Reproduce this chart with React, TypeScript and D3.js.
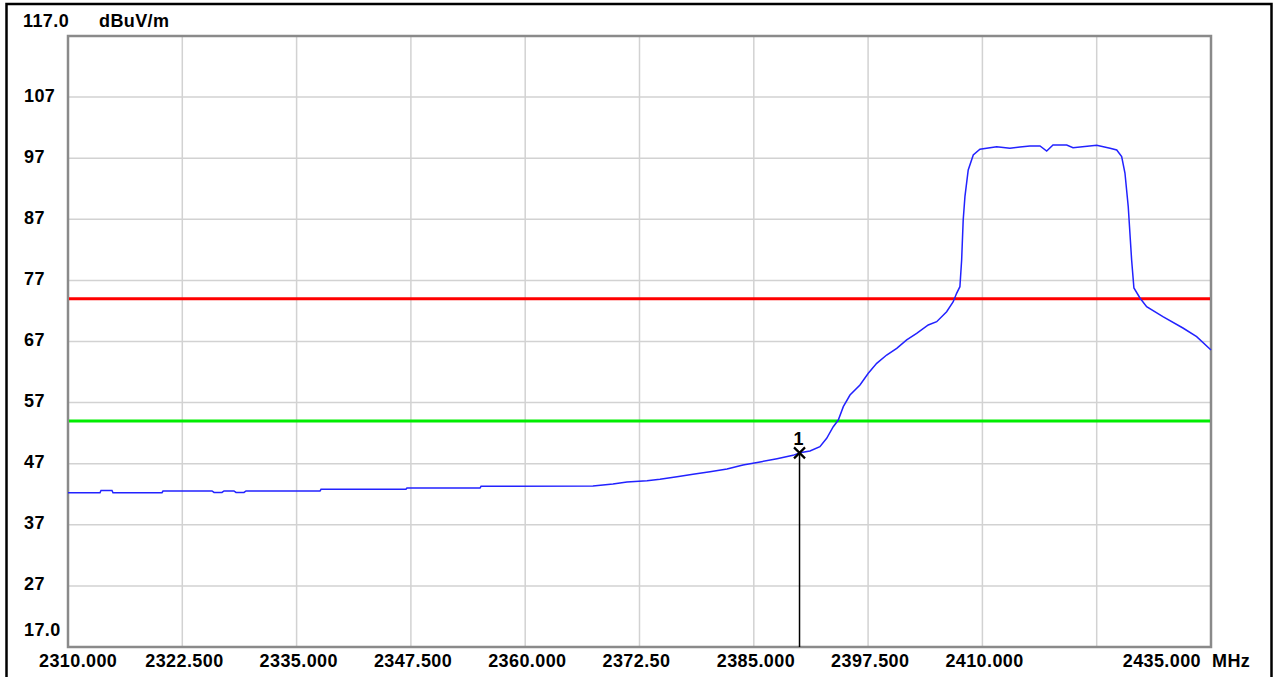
import React, { useEffect, useRef } from 'react';
import * as d3 from 'd3';

// y axis (dBuV/m)
const yMin = 17;
const yMax = 117;
const yTicks = [27, 37, 47, 57, 67, 77, 87, 97, 107];

// x axis (MHz)
const xMin = 2310;
const xMax = 2435;
const xTicks = [2310, 2322.5, 2335, 2347.5, 2360, 2372.5, 2385, 2397.5, 2410, 2422.5, 2435];
const xTickLabels = ['2310.000', '2322.500', '2335.000', '2347.500', '2360.000', '2372.50', '2385.000', '2397.500', '2410.000', '', '2435.000'];

// limit lines
const limitPeak = 74;
const limitAvg = 54;

// marker 1
const markerFreq = 2390;

// trace: [MHz, dBuV/m]
const traceFreq = [
  2310.0, 2313.5, 2313.61, 2314.81, 2314.92, 2320.28, 2320.39, 2325.75, 2325.97, 2326.84,
  2327.06, 2328.15, 2328.37, 2329.25, 2329.47, 2337.56, 2337.67, 2346.96, 2347.07, 2355.06,
  2355.17, 2367.41, 2369.6, 2371.13, 2373.32, 2374.74, 2376.6, 2378.35, 2380.21, 2382.07,
  2383.82, 2385.68, 2387.54, 2389.29, 2390.05, 2391.14, 2392.23, 2392.97, 2393.69, 2394.24,
  2394.79, 2395.52, 2396.61, 2397.52, 2398.44, 2399.53, 2400.63, 2401.72, 2402.81, 2404.08,
  2405.0, 2406.09, 2406.81, 2407.18, 2407.54, 2407.73, 2407.9, 2408.09, 2408.45, 2409.0,
  2409.73, 2411.56, 2413.01, 2414.11, 2415.2, 2416.3, 2417.03, 2417.72, 2419.22, 2419.91,
  2422.5, 2423.96, 2424.69, 2425.23, 2425.59, 2425.95, 2426.32, 2426.57, 2427.23, 2427.96,
  2429.74, 2431.93, 2433.43, 2435.0,
];
const traceLevel = [
  42.25, 42.25, 42.61, 42.61, 42.25, 42.25, 42.53, 42.53, 42.29, 42.29,
  42.53, 42.53, 42.29, 42.29, 42.53, 42.53, 42.81, 42.81, 43.02, 43.02,
  43.3, 43.35, 43.68, 44.0, 44.22, 44.45, 44.87, 45.26, 45.69, 46.13,
  46.79, 47.28, 47.82, 48.37, 48.8, 49.08, 49.78, 51.16, 53.06, 54.15,
  56.33, 58.24, 59.88, 61.8, 63.43, 64.79, 65.89, 67.25, 68.34, 69.7,
  70.24, 71.88, 73.51, 74.89, 75.97, 80.34, 86.89, 90.7, 95.07, 97.52,
  98.46, 98.88, 98.62, 98.83, 99.0, 99.0, 98.18, 99.16, 99.16, 98.72,
  99.11, 98.62, 98.34, 97.25, 94.58, 89.06, 80.34, 75.76, 74.12, 72.7,
  71.06, 69.21, 67.79, 65.61,
];

const W = 1275;
const H = 677;
const plot = { left: 68, right: 1211, top: 36, bottom: 647 };
const font = '"Liberation Sans", Arial, sans-serif';

const App = () => {
  const ref = useRef<SVGSVGElement>(null);

  useEffect(() => {
    const svg = d3.select(ref.current);
    svg.selectAll('*').remove();

    const x = d3.scaleLinear().domain([xMin, xMax]).range([plot.left, plot.right]);
    const y = d3.scaleLinear().domain([yMin, yMax]).range([plot.bottom, plot.top]);

    svg.append('rect').attr('width', W).attr('height', H).attr('fill', '#fff');

    // outer black frame (bottom edge runs off the picture)
    svg.append('rect')
      .attr('x', 6.5).attr('y', 4).attr('width', 1265).attr('height', H + 10)
      .attr('fill', 'none').attr('stroke', '#000').attr('stroke-width', 2.5);

    // grid
    const grid = svg.append('g').attr('stroke', '#d2d2d2').attr('stroke-width', 1.5);
    grid.selectAll('.vx').data(xTicks.slice(1, -1)).enter().append('line')
      .attr('x1', d => x(d)).attr('x2', d => x(d))
      .attr('y1', plot.top).attr('y2', plot.bottom);
    grid.selectAll('.hy').data(yTicks).enter().append('line')
      .attr('x1', plot.left).attr('x2', plot.right)
      .attr('y1', d => y(d)).attr('y2', d => y(d));

    // plot frame
    svg.append('rect')
      .attr('x', plot.left).attr('y', plot.top)
      .attr('width', plot.right - plot.left).attr('height', plot.bottom - plot.top)
      .attr('fill', 'none').attr('stroke', '#8a8a8a').attr('stroke-width', 2.5);

    // limit lines
    svg.append('line')
      .attr('x1', plot.left + 1).attr('x2', plot.right - 1)
      .attr('y1', y(limitPeak)).attr('y2', y(limitPeak))
      .attr('stroke', '#ff0000').attr('stroke-width', 3);
    svg.append('line')
      .attr('x1', plot.left + 1).attr('x2', plot.right - 1)
      .attr('y1', y(limitAvg)).attr('y2', y(limitAvg))
      .attr('stroke', '#00ee00').attr('stroke-width', 3);

    // trace
    const pts: [number, number][] = traceFreq.map((f, i) => [f, traceLevel[i]]);
    const line = d3.line<[number, number]>().x(d => x(d[0])).y(d => y(d[1]));
    svg.append('path')
      .attr('d', line(pts))
      .attr('fill', 'none').attr('stroke', '#2222ff').attr('stroke-width', 1.5);

    // marker
    const mLevel = d3.scaleLinear().domain(traceFreq).range(traceLevel)(markerFreq);
    const mx = x(markerFreq);
    const my = y(mLevel);
    svg.append('line')
      .attr('x1', mx).attr('x2', mx).attr('y1', my).attr('y2', plot.bottom)
      .attr('stroke', '#000').attr('stroke-width', 1.5);
    const s = 5.5;
    svg.append('path')
      .attr('d', `M${mx - s},${my - s}L${mx + s},${my + s}M${mx + s},${my - s}L${mx - s},${my + s}`)
      .attr('stroke', '#000').attr('stroke-width', 2.2).attr('fill', 'none');
    svg.append('text')
      .attr('x', mx - 1).attr('y', my - 8)
      .attr('text-anchor', 'middle')
      .style('font-family', font).style('font-size', '18px').style('font-weight', 'bold')
      .text('1');

    const label = (tx: number, ty: number, t: string, anchor = 'start') =>
      svg.append('text')
        .attr('x', tx).attr('y', ty).attr('text-anchor', anchor)
        .style('font-family', font).style('font-size', '18px').style('font-weight', 'bold')
        .style('letter-spacing', '0.4px').style('fill', '#000')
        .text(t);

    // y labels
    yTicks.forEach(v => label(24, y(v) + 4.5, String(v)));
    label(24, plot.bottom - 11, yMin.toFixed(1));
    label(23, 27, yMax.toFixed(1));
    label(99, 27, 'dBuV/m');

    // x labels
    xTicks.forEach((v, i) => {
      const t = xTickLabels[i];
      if (!t) return;
      if (i === 0) label(39, 667, t);
      else if (i === xTicks.length - 1) label(plot.right - 10, 667, t, 'end');
      else label(x(v) - 37, 667, t);
    });
    label(plot.right + 1, 667, 'MHz');
  }, []);

  return (
    <svg
      ref={ref}
      width={W}
      height={H}
      style={{ position: 'absolute', left: 0, top: 0, display: 'block' }}
    />
  );
};

export default App;
